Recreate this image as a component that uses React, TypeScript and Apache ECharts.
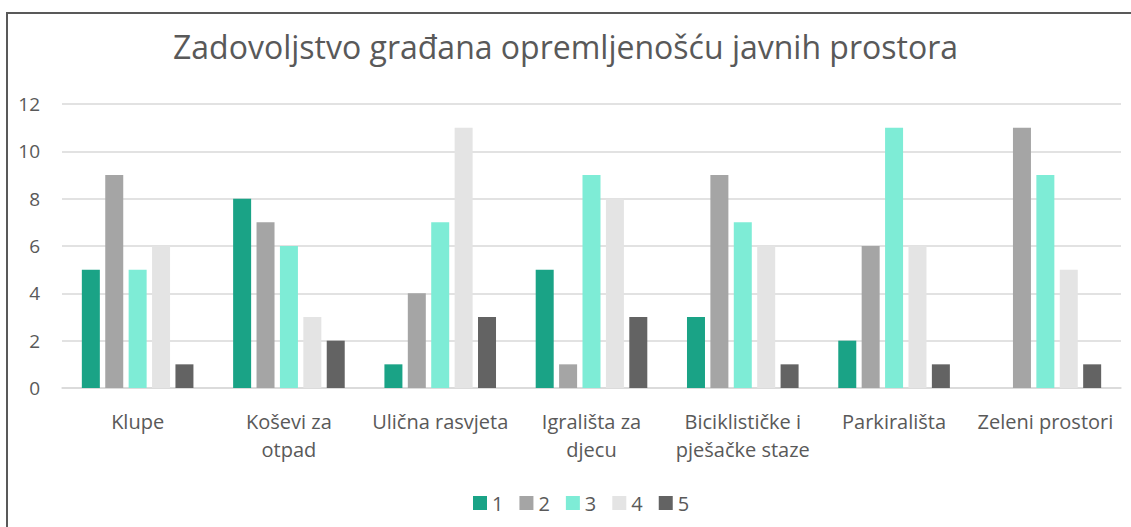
import React, { useEffect, useRef } from "react";
import * as echarts from "echarts";

const categories = [
  "Klupe",
  "Koševi za\notpad",
  "Ulična rasvjeta",
  "Igrališta za\ndjecu",
  "Biciklističke i\npješačke staze",
  "Parkirališta",
  "Zeleni prostori",
];
const seriesNames = ["1", "2", "3", "4", "5"];
const s1 = [5, 8, 1, 5, 3, 2, 0];
const s2 = [9, 7, 4, 1, 9, 6, 11];
const s3 = [5, 6, 7, 9, 7, 11, 9];
const s4 = [6, 3, 11, 8, 6, 6, 5];
const s5 = [1, 2, 3, 3, 1, 1, 1];
const colors = ["#1aa386", "#a5a5a5", "#7eecd6", "#e4e4e4", "#636363"];

export default function App() {
  const ref = useRef<HTMLDivElement>(null);
  useEffect(() => {
    const chart = echarts.init(ref.current!, null, { renderer: "svg" });
    const font = "'Open Sans', sans-serif";
    const data = [s1, s2, s3, s4, s5];
    chart.setOption({
      animation: false,
      textStyle: { fontFamily: font },
      title: {
        text: "Zadovoljstvo građana opremljenošću javnih prostora",
        left: "center",
        top: 25,
        textStyle: { fontFamily: font, fontSize: 32, fontWeight: "normal", color: "#595959" },
      },
      graphic: [
        {
          type: "rect",
          shape: { x: 7, y: 13, width: 1200, height: 600 },
          style: { fill: "none", stroke: "#595959", lineWidth: 2 },
          silent: true,
        },
      ],
      legend: {
        data: seriesNames,
        bottom: 14,
        left: 473,
        padding: 0,
        itemWidth: 14,
        itemHeight: 14,
        itemGap: 16,
        icon: "rect",
        textStyle: { fontFamily: font, fontSize: 20, color: "#595959" },
      },
      grid: { left: 62, right: 10, top: 104, bottom: 139, containLabel: false },
      xAxis: {
        type: "category",
        data: categories,
        axisLine: { show: true, lineStyle: { color: "#d9d9d9", width: 1.5 } },
        axisTick: { show: false },
        axisLabel: {
          interval: 0,
          margin: 19,
          fontSize: 20,
          lineHeight: 28,
          color: "#595959",
          fontFamily: font,
        },
      },
      yAxis: {
        type: "value",
        min: 0,
        max: 12,
        interval: 2,
        axisLine: { show: false },
        axisTick: { show: false },
        splitLine: { lineStyle: { color: "#d9d9d9", width: 1.5 } },
        axisLabel: { margin: 22, fontSize: 19, color: "#595959", fontFamily: font },
      },
      series: seriesNames.map((n, i) => ({
        name: n,
        type: "bar",
        data: data[i],
        barWidth: 18,
        barGap: "30%",
        itemStyle: { color: colors[i] },
      })),
    });
    return () => chart.dispose();
  }, []);
  return (
    <div
      ref={ref}
      style={{ position: "fixed", left: 0, top: 0, width: 1131, height: 527, background: "#fff" }}
    />
  );
}
